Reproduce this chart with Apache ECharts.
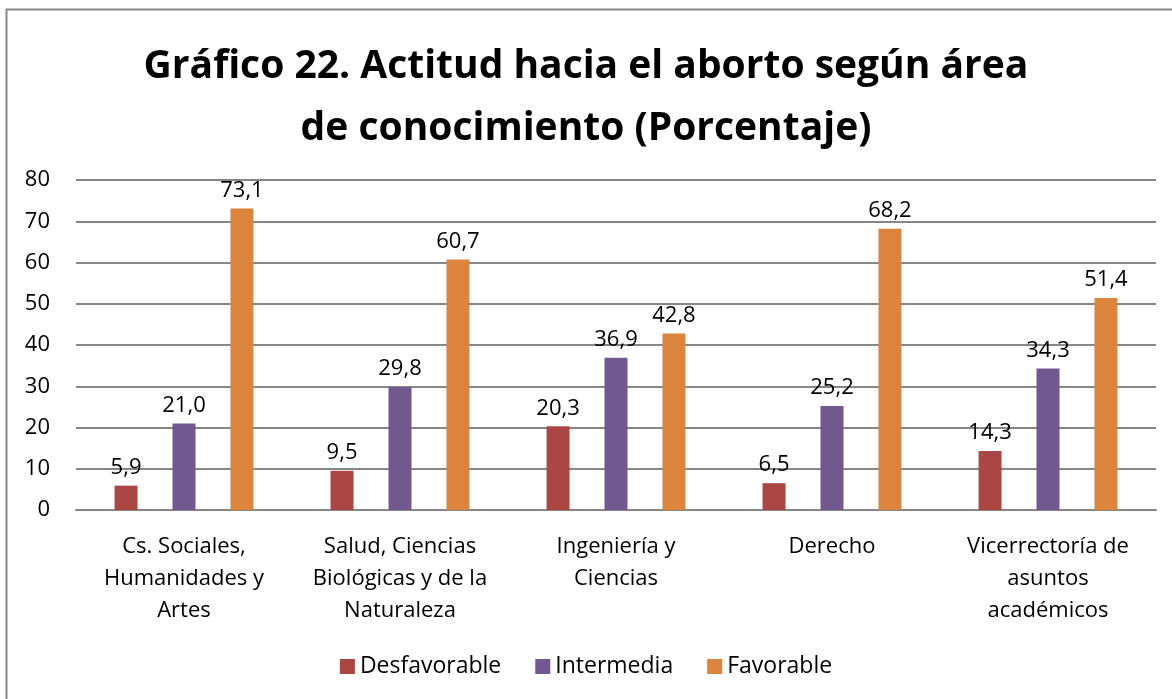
<!DOCTYPE html>
<html>
<head>
<meta charset="utf-8">
<script src="https://cdn.jsdelivr.net/npm/echarts@6/dist/echarts.min.js"></script>
<style>
  html, body { margin: 0; padding: 0; background: #fff; }
  #chart { width: 1172px; height: 699px; }
</style>
</head>
<body>
<div id="chart"></div>
<script>
const categories = [
  "Cs. Sociales,\nHumanidades y\nArtes",
  "Salud, Ciencias\nBiológicas y de la\nNaturaleza",
  "Ingeniería y\nCiencias",
  "Derecho",
  "Vicerrectoría de\nasuntos\nacadémicos"
];
const desfavorable = [5.9, 9.5, 20.3, 6.5, 14.3];
const intermedia = [21.0, 29.8, 36.9, 25.2, 34.3];
const favorable = [73.1, 60.7, 42.8, 68.2, 51.4];

const FONT = "'Open Sans', sans-serif";
const labelFmt = (p) => p.value.toFixed(1).replace(".", ",");

function makeSeries(name, data, color) {
  return {
    name,
    type: "bar",
    data,
    barWidth: 23,
    barGap: "152%",
    itemStyle: { color },
    label: {
      show: true,
      position: "top",
      distance: 7,
      formatter: labelFmt,
      color: "#000",
      fontSize: 22,
      fontFamily: FONT
    },
    animation: false
  };
}

const chart = echarts.init(document.getElementById("chart"), null, { renderer: "canvas" });
chart.setOption({
  backgroundColor: "#ffffff",
  title: {
    text: "Gráfico 22. Actitud hacia el aborto según área\nde conocimiento (Porcentaje)",
    left: "center",
    top: 31,
    textStyle: {
      fontFamily: FONT,
      fontWeight: "bold",
      fontSize: 39,
      lineHeight: 62,
      color: "#000"
    }
  },
  graphic: [{
    type: "rect",
    shape: { x: 6.5, y: 9.5, width: 1200, height: 800 },
    style: { fill: "none", stroke: "#868686", lineWidth: 2 },
    silent: true
  }],
  legend: {
    bottom: 16,
    left: "center",
    itemWidth: 15,
    itemHeight: 15,
    itemGap: 34,
    icon: "rect",
    textStyle: { fontFamily: FONT, fontSize: 23, color: "#000" },
    data: ["Desfavorable", "Intermedia", "Favorable"]
  },
  grid: { left: 76, right: 16, top: 180, bottom: 189, containLabel: false },
  xAxis: {
    type: "category",
    data: categories,
    axisTick: { show: false },
    axisLine: { lineStyle: { color: "#868686", width: 2 } },
    axisLabel: {
      interval: 0,
      margin: 21,
      lineHeight: 32,
      fontFamily: FONT,
      fontSize: 22,
      color: "#000"
    }
  },
  yAxis: {
    type: "value",
    min: 0,
    max: 80,
    interval: 10,
    axisLine: { show: false },
    axisTick: { show: false },
    axisLabel: {
      margin: 26,
      fontFamily: FONT,
      fontSize: 22,
      color: "#000"
    },
    splitLine: { lineStyle: { color: "#868686", width: 2 } }
  },
  series: [
    makeSeries("Desfavorable", desfavorable, "#AA4643"),
    makeSeries("Intermedia", intermedia, "#71588F"),
    makeSeries("Favorable", favorable, "#DB843D")
  ]
});
</script>
</body>
</html>
